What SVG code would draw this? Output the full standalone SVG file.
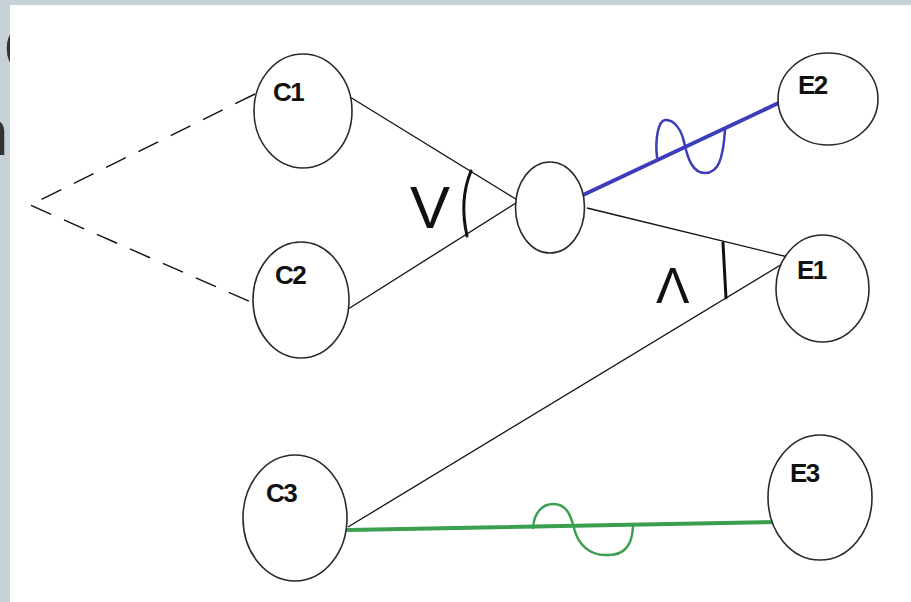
<svg xmlns="http://www.w3.org/2000/svg" width="911" height="602" viewBox="0 0 911 602">
<style>
.node{fill:#fff;stroke:#2a2a2a;stroke-width:1.6}
.lbl{font-family:"Liberation Sans",Arial,sans-serif;font-weight:bold;font-size:26px;fill:#111;letter-spacing:-1.5px}
.thin{stroke:#111;stroke-width:1.3;fill:none}
.dash{stroke:#111;stroke-width:1.4;fill:none;stroke-dasharray:22 14}
.mark{stroke:#111;stroke-width:3;fill:none;stroke-linecap:round;stroke-linejoin:round}
.hand{font-family:"Liberation Sans",Arial,sans-serif;fill:#111}
.frag{font-family:"Open Sans","Liberation Sans",sans-serif;font-weight:bold;font-size:64px;fill:#333}
</style>
<rect x="0" y="0" width="911" height="602" fill="#c6d1d7"/>
<g id="fragments">
<text class="frag" x="3" y="71">C</text>
<text class="frag" x="9" y="155" text-anchor="end">n</text>
</g>
<rect x="10" y="5" width="901" height="597" fill="#fff"/>
<g id="connectors">
<polyline class="dash" points="255,94 30,205 253,303"/>
<line class="thin" x1="350" y1="97" x2="519" y2="201"/>
<line class="thin" x1="345" y1="311" x2="519" y2="201"/>
<line class="thin" x1="587" y1="208" x2="792" y2="258"/>
<line class="thin" x1="348" y1="527" x2="792" y2="258"/>
<line x1="583" y1="195" x2="785" y2="100" stroke="#3d3dbb" stroke-width="4" stroke-linecap="round"/>
<path d="M657 157 C655 140 658 121 665 120 C675 119 682 132 684 142 C688 160 693 173 705 173 C718 173 723 160 725 130" fill="none" stroke="#3d3dbb" stroke-width="2.5" stroke-linecap="round"/>
<line x1="348" y1="530" x2="780" y2="522" stroke="#3a9f4e" stroke-width="4" stroke-linecap="round"/>
<path d="M533 528 C534 512 543 504 553 504 C565 504 570 512 574 528 C578 545 590 555 605 555 C622 556 632 548 633 527" fill="none" stroke="#3a9f4e" stroke-width="2.5" stroke-linecap="round"/>
<path class="mark" d="M471 171 Q459 200 467 236"/>
<path class="mark" d="M723 243 L726 298"/>
</g>
<g id="angle-labels">
<text class="hand" x="410" y="228" font-size="60">V</text>
<text class="hand" x="656" y="303" font-size="50">Λ</text>
</g>
<g id="C1"><ellipse class="node" cx="303" cy="111" rx="49" ry="57"/><text class="lbl" x="273" y="101">C1</text></g>
<g id="C2"><ellipse class="node" cx="301" cy="300" rx="48" ry="58"/><text class="lbl" x="275" y="284">C2</text></g>
<g id="C3"><ellipse class="node" cx="295" cy="518" rx="52" ry="63"/><text class="lbl" x="266" y="502">C3</text></g>
<g id="M"><ellipse class="node" cx="550" cy="207.5" rx="34.5" ry="45.5"/></g>
<g id="E2"><ellipse class="node" cx="828" cy="99" rx="50" ry="46"/><text class="lbl" x="798" y="94">E2</text></g>
<g id="E1"><ellipse class="node" cx="822.5" cy="288.5" rx="46.5" ry="53.5"/><text class="lbl" x="797" y="279">E1</text></g>
<g id="E3"><ellipse class="node" cx="820" cy="497.5" rx="52" ry="62.5"/><text class="lbl" x="790" y="482">E3</text></g>
</svg>
